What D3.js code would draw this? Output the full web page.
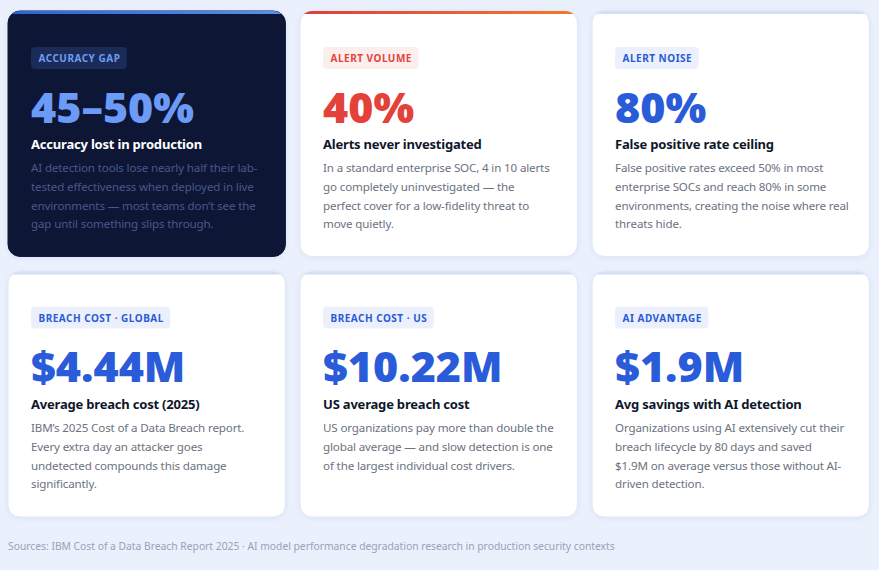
<!DOCTYPE html>
<html>
<head>
<meta charset="utf-8">
<script src="https://cdn.jsdelivr.net/npm/d3@7"></script>
<style>
    html, body { margin: 0; padding: 0; background: #eaf0fc; }
    svg { display: block; font-family: "Noto Sans", "Open Sans", sans-serif; }
</style>
</head>
<body>
<div id="chart"></div>
<script>
// ── Stat cards ──

const badges = ['ACCURACY GAP', 'ALERT VOLUME', 'ALERT NOISE', 'BREACH COST · GLOBAL', 'BREACH COST · US', 'AI ADVANTAGE'];
const values = ['45–50%', '40%', '80%', '$4.44M', '$10.22M', '$1.9M'];
const titles = [
    'Accuracy lost in production',
    'Alerts never investigated',
    'False positive rate ceiling',
    'Average breach cost (2025)',
    'US average breach cost',
    'Avg savings with AI detection',
];
const descriptions = [
    ['AI detection tools lose nearly half their lab-', 'tested effectiveness when deployed in live', 'environments — most teams don’t see the', 'gap until something slips through.'],
    ['In a standard enterprise SOC, 4 in 10 alerts', 'go completely uninvestigated — the', 'perfect cover for a low-fidelity threat to', 'move quietly.'],
    ['False positive rates exceed 50% in most', 'enterprise SOCs and reach 80% in some', 'environments, creating the noise where real', 'threats hide.'],
    ['IBM’s 2025 Cost of a Data Breach report.', 'Every extra day an attacker goes', 'undetected compounds this damage', 'significantly.'],
    ['US organizations pay more than double the', 'global average — and slow detection is one', 'of the largest individual cost drivers.'],
    ['Organizations using AI extensively cut their', 'breach lifecycle by 80 days and saved', '$1.9M on average versus those without AI-', 'driven detection.'],
];
const themes = ['dark', 'alert', 'plain', 'plain', 'plain', 'plain'];
const sourceNote = 'Sources: IBM Cost of a Data Breach Report 2025 · AI model performance degradation research in production security contexts';

const THEME = {
    dark:  { card: '#0b1634', stroke: '#0b1634', badgeBg: '#1b2b58', badgeFg: '#6f9cf5', value: '#6b9bf7', title: '#ffffff', desc: '#49588a', accent: ['#2f62d6', '#5b8ef0'] },
    alert: { card: '#ffffff', stroke: '#dfe6f5', badgeBg: '#fdeeee', badgeFg: '#e0453e', value: '#e5413b', title: '#0f172a', desc: '#6b7280', accent: ['#dc3f3f', '#ef7a2c'] },
    plain: { card: '#ffffff', stroke: '#dfe6f5', badgeBg: '#ebf0fc', badgeFg: '#2a5bd5', value: '#2a5bd8', title: '#0f172a', desc: '#6b7280', accent: ['#d6def4', '#d6def4'] },
};

const width = 879, height = 570;
const cards = values.map((v, i) => ({ i, col: i % 3, row: Math.floor(i / 3), theme: THEME[themes[i]] }));

const x = d3.scaleBand().domain([0, 1, 2]).range([8, 869.5]).paddingInner(0.05);
const y = d3.scaleBand().domain([0, 1]).range([11, 517]).paddingInner(0.058);

const svg = d3.select('#chart').append('svg')
    .attr('width', width)
    .attr('height', height);

const defs = svg.append('defs');

// soft drop shadow for cards
const shadow = defs.append('filter').attr('id', 'shadow').attr('x', '-10%').attr('y', '-10%').attr('width', '120%').attr('height', '130%');
shadow.append('feDropShadow').attr('dx', 0).attr('dy', 1).attr('stdDeviation', 2).attr('flood-color', '#3b5bb0').attr('flood-opacity', 0.08);

cards.forEach(d => {
    const grad = defs.append('linearGradient').attr('id', `accent-${d.i}`);
    grad.append('stop').attr('offset', '0%').attr('stop-color', d.theme.accent[0]);
    grad.append('stop').attr('offset', '100%').attr('stop-color', d.theme.accent[1]);
    defs.append('clipPath').attr('id', `clip-${d.i}`)
        .append('rect')
        .attr('width', x.bandwidth()).attr('height', y.bandwidth())
        .attr('rx', 12);
});

const card = svg.append('g')
    .selectAll('g')
    .data(cards)
    .join('g')
    .attr('transform', d => `translate(${x(d.col)},${y(d.row)})`);

card.append('rect')
    .attr('width', x.bandwidth())
    .attr('height', y.bandwidth())
    .attr('rx', 12)
    .attr('fill', d => d.theme.card)
    .attr('stroke', d => d.theme.stroke)
    .attr('stroke-width', 1)
    .style('filter', 'url(#shadow)');

// top accent strip
card.append('rect')
    .attr('clip-path', d => `url(#clip-${d.i})`)
    .attr('width', x.bandwidth())
    .attr('height', 3)
    .attr('fill', d => `url(#accent-${d.i})`);

const pad = 23;

// badge
const badge = card.append('g').attr('transform', d => `translate(${pad},${d.row ? 35 : 36})`);
const badgeBg = badge.append('rect')
    .attr('height', 22)
    .attr('rx', 4)
    .attr('fill', d => d.theme.badgeBg);
badge.append('text')
    .attr('x', 7.5)
    .attr('y', 15)
    .attr('font-size', 10)
    .attr('font-weight', 700)
    .attr('letter-spacing', 0.5)
    .attr('fill', d => d.theme.badgeFg)
    .text(d => badges[d.i])
    .each(function (d) {
        d.badgeW = this.getComputedTextLength() + 14;
    });
badgeBg.attr('width', d => d.badgeW);

// big value
card.append('text')
    .attr('x', pad)
    .attr('y', d => d.row ? 110.5 : 111.5)
    .attr('font-size', 43)
    .attr('font-weight', 900)
    .attr('fill', d => d.theme.value)
    .text(d => values[d.i]);

// title
card.append('text')
    .attr('x', pad)
    .attr('y', d => d.row ? 137.5 : 138)
    .attr('font-size', 13)
    .attr('font-weight', 700)
    .attr('letter-spacing', -0.2)
    .attr('fill', d => d.theme.title)
    .text(d => titles[d.i]);

// description
card.append('text')
    .attr('font-size', 11.6)
    .attr('letter-spacing', -0.15)
    .attr('fill', d => d.theme.desc)
    .selectAll('tspan')
    .data(d => descriptions[d.i].map((line, k) => ({ line, k, row: d.row })))
    .join('tspan')
    .attr('x', pad)
    .attr('y', t => (t.row ? 160.5 : 161) + t.k * 18.8)
    .text(t => t.line);

// footer note
svg.append('text')
    .attr('x', 8)
    .attr('y', 549.5)
    .attr('font-size', 10.3)
    .attr('fill', '#97a3b8')
    .text(sourceNote);
</script>
</body>
</html>
